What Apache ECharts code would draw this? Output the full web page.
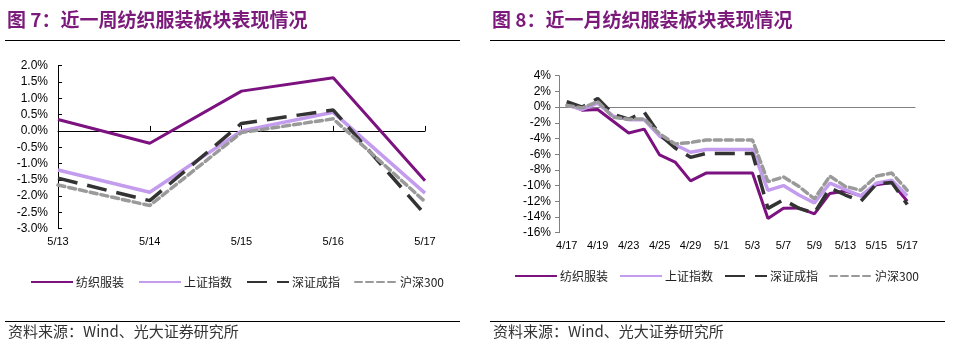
<!DOCTYPE html>
<html>
<head>
<meta charset="utf-8">
<script src="https://cdn.jsdelivr.net/npm/echarts@6/dist/echarts.min.js"></script>
<style>
  html, body { margin: 0; padding: 0; background: #fff; }
  #chart { width: 955px; height: 349px; }
</style>
</head>
<body>
<div id="chart"></div>
<script>
// ---- Data: weekly performance (%) ----
const weekDates = ['5/13', '5/14', '5/15', '5/16', '5/17'];
const weekTextile = [0.35, -0.38, 1.22, 1.63, -1.53];
const weekSH = [-1.20, -1.88, 0.00, 0.57, -1.91];
const weekSZ = [-1.45, -2.14, 0.23, 0.64, -2.56];
const weekHS300 = [-1.66, -2.29, -0.05, 0.37, -2.17];

// ---- Data: monthly performance (%) ----
const monthDates = ['4/17', '4/18', '4/19', '4/22', '4/23', '4/24', '4/25', '4/26', '4/29', '4/30',
  '5/1', '5/2', '5/3', '5/6', '5/7', '5/8', '5/9', '5/10', '5/13', '5/14', '5/15', '5/16', '5/17'];
const monthTextile = [0.5, -0.4, -0.3, -1.8, -3.3, -2.8, -6.1, -7.0, -9.4, -8.4, -8.4, -8.4, -8.4,
  -14.2, -12.9, -12.85, -13.6, -11.0, -10.7, -11.3, -9.9, -9.6, -12.0];
const monthSH = [0.25, -0.3, 0.5, -1.15, -1.6, -1.6, -3.7, -4.8, -5.75, -5.4, -5.4, -5.4, -5.4,
  -10.6, -10.0, -11.2, -12.2, -9.7, -10.5, -11.35, -9.7, -9.3, -11.3];
const monthSZ = [0.7, 0.0, 1.1, -0.9, -1.55, -0.65, -3.5, -5.2, -6.4, -5.9, -5.9, -5.9, -5.9,
  -12.9, -11.8, -12.9, -13.5, -10.3, -11.2, -12.0, -9.8, -9.6, -12.4];
const monthHS300 = [0.2, -0.1, 0.7, -1.3, -1.55, -1.5, -3.4, -4.7, -4.5, -4.2, -4.2, -4.2, -4.2,
  -9.5, -8.9, -10.1, -11.7, -8.8, -10.1, -10.6, -8.8, -8.4, -10.6];

const seriesNames = ['纺织服装', '上证指数', '深证成指', '沪深300'];
const lineStyles = [
  { color: '#7b1280', width: 3, type: 'solid' },
  { color: '#c49cee', width: 3.5, type: 'solid' },
  { color: '#333333', width: 3.5, type: [20, 10] },
  { color: '#9a9a9a', width: 3.5, type: [7, 4] }
];

const latin = '"Liberation Sans", Arial, "Noto Sans CJK SC", sans-serif';
const cjk = '"Noto Sans CJK SC", "Liberation Sans", sans-serif';
const titleColor = '#7b1a7b';

function makeSeries(gridIdx, valuesList) {
  return valuesList.map((vals, k) => ({
    name: seriesNames[k],
    type: 'line',
    xAxisIndex: gridIdx * 2,
    yAxisIndex: gridIdx,
    data: vals,
    symbol: 'none',
    smooth: false,
    lineStyle: Object.assign({ cap: k === 3 ? 'round' : 'butt' }, lineStyles[k]),
    itemStyle: { color: lineStyles[k].color },
    emphasis: { disabled: true }
  }));
}

function makeLegend(left, top, gap) {
  return {
    data: seriesNames, left: left, top: top, padding: 0,
    itemWidth: 42, itemHeight: 14, itemGap: gap,
    itemStyle: { opacity: 0 },
    textStyle: { fontFamily: cjk, fontSize: 12, color: '#222', padding: [0, 0, 0, -2] }
  };
}

const chart = echarts.init(document.getElementById('chart'), null, { renderer: 'canvas' });

const option = {
  animation: false,
  backgroundColor: '#ffffff',
  grid: [
    { left: 58, right: 530, top: 65.7, bottom: 120.3, containLabel: false },
    { left: 559, right: 40, top: 75.7, bottom: 116.3, containLabel: false }
  ],
  legend: [makeLegend(30, 276, 14), makeLegend(514, 270, 11)],
  xAxis: [
    // weekly chart: zero line with ticks
    {
      type: 'category', gridIndex: 0, data: weekDates, boundaryGap: false,
      axisLine: { onZero: true, lineStyle: { color: '#000', width: 1 } },
      axisTick: { inside: true, length: 5, lineStyle: { color: '#000' } },
      axisLabel: { show: false }, splitLine: { show: false }
    },
    // weekly chart: date labels along the bottom
    {
      type: 'category', gridIndex: 0, data: weekDates, boundaryGap: false, position: 'bottom',
      axisLine: { show: false, onZero: false }, axisTick: { show: false },
      axisLabel: { margin: 8, fontFamily: latin, fontSize: 11, color: '#000' },
      splitLine: { show: false }
    },
    // monthly chart: zero line with ticks
    {
      type: 'category', gridIndex: 1, data: monthDates, boundaryGap: true,
      axisLine: { onZero: true, lineStyle: { color: '#808080', width: 1 } },
      axisTick: { inside: true, length: 5, interval: 0, lineStyle: { color: '#808080' } },
      axisLabel: { show: false }, splitLine: { show: false }
    },
    // monthly chart: date labels along the bottom
    {
      type: 'category', gridIndex: 1, data: monthDates, boundaryGap: true, position: 'bottom',
      axisLine: { show: false, onZero: false }, axisTick: { show: false },
      axisLabel: { interval: 1, margin: 8, fontFamily: latin, fontSize: 11, color: '#000' },
      splitLine: { show: false }
    }
  ],
  yAxis: [
    {
      type: 'value', gridIndex: 0, min: -3, max: 2, interval: 0.5,
      axisLine: { show: true, lineStyle: { color: '#000', width: 1 } },
      axisTick: { show: true, inside: true, length: 4, lineStyle: { color: '#000' } },
      axisLabel: { margin: 10, fontFamily: latin, fontSize: 12, color: '#000',
        formatter: v => v.toFixed(1) + '%' },
      splitLine: { show: false }
    },
    {
      type: 'value', gridIndex: 1, min: -16, max: 4, interval: 2,
      axisLine: { show: true, lineStyle: { color: '#808080', width: 1 } },
      axisTick: { show: true, inside: false, length: 4, lineStyle: { color: '#808080' } },
      axisLabel: { margin: 8, fontFamily: latin, fontSize: 12, color: '#000',
        formatter: v => v + '%' },
      splitLine: { show: false }
    }
  ],
  series: [
    ...makeSeries(0, [weekTextile, weekSH, weekSZ, weekHS300]),
    ...makeSeries(1, [monthTextile, monthSH, monthSZ, monthHS300])
  ],
  graphic: [
    { type: 'text', left: 7, top: 10, style: { text: '图 7：近一周纺织服装板块表现情况',
      font: 'bold 19px ' + cjk, fill: titleColor } },
    { type: 'text', left: 492, top: 10, style: { text: '图 8：近一月纺织服装板块表现情况',
      font: 'bold 19px ' + cjk, fill: titleColor } },
    { type: 'line', shape: { x1: 5, y1: 40.5, x2: 460, y2: 40.5 }, style: { stroke: '#000', lineWidth: 1 } },
    { type: 'line', shape: { x1: 490, y1: 40.5, x2: 945, y2: 40.5 }, style: { stroke: '#000', lineWidth: 1 } },
    { type: 'line', shape: { x1: 5, y1: 321.5, x2: 460, y2: 321.5 }, style: { stroke: '#000', lineWidth: 1 } },
    { type: 'line', shape: { x1: 490, y1: 321.5, x2: 945, y2: 321.5 }, style: { stroke: '#000', lineWidth: 1 } },
    { type: 'text', left: 8, top: 324, style: { text: '资料来源：Wind、光大证券研究所',
      font: '15px ' + cjk, fill: '#333' } },
    { type: 'text', left: 493, top: 324, style: { text: '资料来源：Wind、光大证券研究所',
      font: '15px ' + cjk, fill: '#333' } }
  ]
};

chart.setOption(option);
</script>
</body>
</html>
